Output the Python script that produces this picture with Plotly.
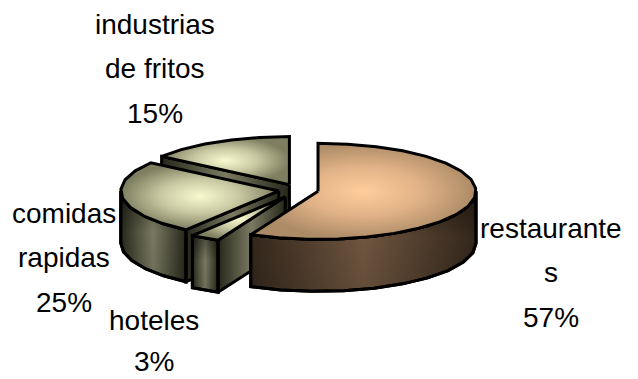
import math
import plotly.graph_objects as go

# Share of each consumer group, in drawing order from back to front
categories = ["industrias de fritos", "comidas rapidas", "hoteles", "restaurantes"]
shares = [15, 25, 3, 57]
# Clockwise order around the pie, starting at twelve o'clock
clockwise = ["restaurantes", "hoteles", "comidas rapidas", "industrias de fritos"]

label_lines = {
    "industrias de fritos": ["industrias", "de fritos", "15%"],
    "comidas rapidas": ["comidas", "rapidas", "25%"],
    "hoteles": ["hoteles", "3%"],
    "restaurantes": ["restaurante", "s", "57%"],
}
label_anchor = {
    "industrias de fritos": (155, 24, 44.5),
    "comidas rapidas": (64, 213, 44.5),
    "hoteles": (154, 320, 41),
    "restaurantes": (551, 228, 44.5),
}

# Oblique projection of the pie, in screen pixels
CX, CY = 298.5, 190
RX, RY = 158, 48
DEPTH = 52
pull = {"restaurantes": 20, "hoteles": 26, "comidas rapidas": 20, "industrias de fritos": 20}

top_scale = {
    "warm": [[0, "#FFCD9A"], [0.5, "#E2B388"], [1, "#AC8B66"]],
    "olive": [[0, "#FAFAD0"], [0.5, "#C8C8A2"], [1, "#7E7E60"]],
}
side_scale = {
    "warm": [[0, "#32261B"], [0.5, "#6F563F"], [1, "#32261B"]],
    "olive": [[0, "#26271A"], [0.5, "#7A7A62"], [1, "#26271A"]],
}
wall_shade = [[0, "rgba(0,0,0,0.10)"], [0.55, "rgba(0,0,0,0)"], [1, "rgba(0,0,0,0.40)"]]
tone = {"restaurantes": "warm"}


def polar(cx, cy, deg):
    a = math.radians(deg)
    return cx + RX * math.sin(a), cy - RY * math.cos(a)


def arc(cx, cy, a0, a1, step=11):
    n = max(1, round((a1 - a0) / step))
    return [polar(cx, cy, a0 + (a1 - a0) * i / n) for i in range(n + 1)]


def polygon(points, scale, kind):
    xs = [p[0] for p in points] + [points[0][0]]
    ys = [p[1] for p in points] + [points[0][1]]
    return go.Scatter(
        x=xs, y=ys, mode="lines", fill="toself",
        line=dict(color="black", width=3, shape="linear"),
        fillgradient=dict(type=kind, colorscale=scale),
        hoverinfo="skip", showlegend=False,
    )


# Angular span of every slice
span = {}
start = 0.0
value = dict(zip(categories, shares))
for name in clockwise:
    end = start + value[name] * 3.6
    span[name] = (start, end)
    start = end

fig = go.Figure()
for name in categories:
    a0, a1 = span[name]
    mid = math.radians((a0 + a1) / 2)
    cx = CX + pull[name] * math.sin(mid)
    cy = CY - pull[name] * (RY / RX) * math.cos(mid)
    t = tone.get(name, "olive")

    # Radial cut faces that look toward the viewer
    for edge, visible in ((a0, math.sin(math.radians(a0)) < -1e-6),
                          (a1, math.sin(math.radians(a1)) > 1e-6)):
        if visible:
            ex, ey = polar(cx, cy, edge)
            face = [(cx, cy), (ex, ey), (ex, ey + DEPTH), (cx, cy + DEPTH)]
            fig.add_trace(polygon(face, side_scale[t], "horizontal"))

    # Outer wall on the front half of the ellipse
    w0, w1 = max(a0, 90), min(a1, 270)
    if w1 > w0:
        rim = arc(cx, cy, w0, w1)
        wall = rim + [(x, y + DEPTH) for x, y in reversed(rim)]
        fig.add_trace(polygon(wall, side_scale[t], "horizontal"))
        fig.add_trace(polygon(wall, wall_shade, "vertical"))

    # Top face
    fig.add_trace(polygon([(cx, cy)] + arc(cx, cy, a0, a1), top_scale[t], "radial"))

for name in categories:
    x, y, leading = label_anchor[name]
    for i, line in enumerate(label_lines[name]):
        fig.add_annotation(
            x=x, y=y + i * leading, text=line, showarrow=False,
            xref="x", yref="y", xanchor="center", yanchor="middle",
            font=dict(family="Liberation Sans", size=28, color="black"),
        )

fig.update_layout(
    width=638, height=379,
    margin=dict(l=0, r=0, t=0, b=0),
    paper_bgcolor="white", plot_bgcolor="white",
    xaxis=dict(range=[0, 638], visible=False, fixedrange=True),
    yaxis=dict(range=[379, 0], visible=False, fixedrange=True),
    showlegend=False,
)
fig.write_html("out.html")
